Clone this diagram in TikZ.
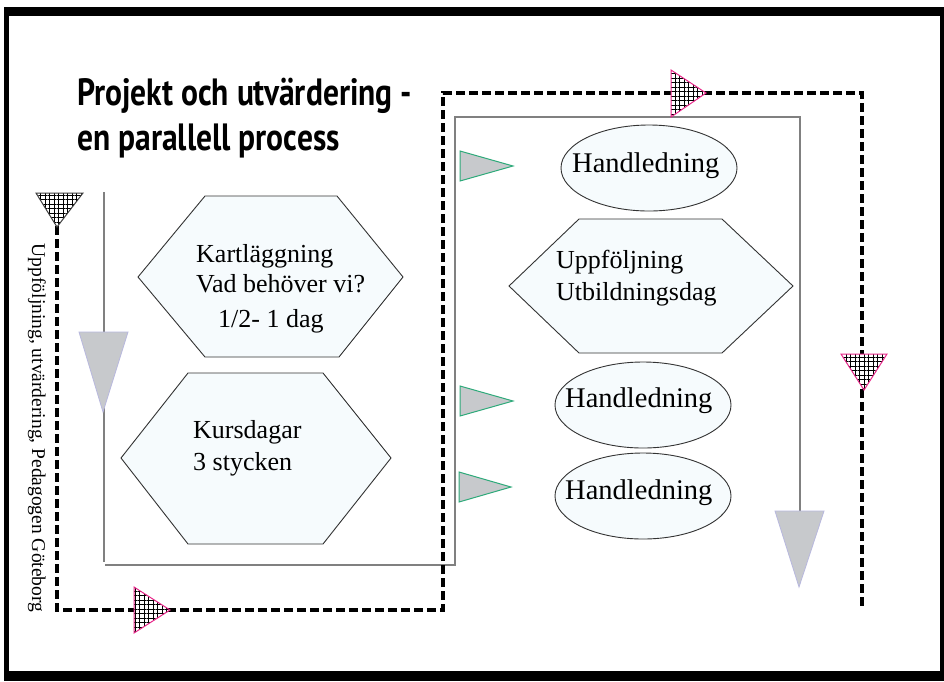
\documentclass[tikz,border=0pt]{standalone}
\usepackage{fontspec}
\setmainfont{Liberation Serif}
\newfontfamily\titlefont{PT Sans}
\usetikzlibrary{patterns.meta,shapes.geometric}
\definecolor{flowgray}{HTML}{808080}
\definecolor{trigray}{HTML}{C7C9CC}
\definecolor{lavender}{HTML}{B8B8DE}
\definecolor{tealgreen}{HTML}{2EAA7A}
\definecolor{hotpink}{HTML}{E8288A}
\definecolor{paleazure}{HTML}{F6FBFD}
\begin{document}
\begin{tikzpicture}[x=1pt,y=-1pt,
  shapebox/.style={draw=black!80,line width=0.9pt,fill=paleazure},
  ellbox/.style={shapebox,ellipse,minimum width=176pt,minimum height=86pt,inner sep=0pt},
  flowline/.style={draw=flowgray,line width=1.6pt},
  dashline/.style={draw=black,line width=3.5pt,dash pattern=on 9pt off 4pt,line join=miter},
  greytri/.style={fill=trigray,draw=lavender,line width=0.8pt},
  greentri/.style={fill=trigray,draw=tealgreen,line width=1pt},
  hatchfill/.style={pattern={Hatch[angle=0,distance=4.5pt,line width=0.45pt]},pattern color=black},
  lbl/.style={font=\fontsize{26}{30}\selectfont,anchor=base west,inner sep=0pt},
  hlbl/.style={font=\fontsize{28.5}{32}\selectfont,anchor=base west,inner sep=0pt},
  ttl/.style={font=\titlefont\bfseries\fontsize{38}{42}\selectfont,anchor=base west,inner sep=0pt,xscale=0.83,transform shape},
]
\useasboundingbox (0,0) rectangle (944,681);
% frame
\fill[black] (4,7) rectangle (944,681);
\fill[white] (9,16) rectangle (940,671);

% title
\node[ttl] (title1) at (77,105) {Projekt och utvärdering -};
\node[ttl] (title2) at (77,150) {en parallell process};

% side text
\node[font=\fontsize{19.5}{22}\selectfont,rotate=-90,inner sep=0pt] (side) at (37,428) {Uppföljning, utvärdering, Pedagogen Göteborg};

% gray flow line
\coordinate (g0) at (104,192);
\coordinate (g1) at (104,562);
\coordinate (g2) at (105,565);
\coordinate (g3) at (455,565);
\coordinate (g4) at (455,117);
\coordinate (g5) at (800,117);
\coordinate (g6) at (800,512);
\draw[flowline] (g0) -- (g1);
\draw[flowline] (g2) -- (g3) -- (g4) -- (g5) -- (g6);

% dashed line
\coordinate (d0) at (57,226);
\coordinate (d1) at (57,610);
\coordinate (d2) at (443,610);
\coordinate (d3) at (443,93);
\coordinate (d4) at (862,93);
\coordinate (d5) at (862,608);
\draw[dashline] (d0) -- (d1) -- (d2) -- (d3) -- (d4) -- (d5);

% hexagons
\draw[shapebox] (205,196) -- (337,196) -- (403,277) -- (339,357) -- (205,357) -- (138,277) -- cycle;
\draw[shapebox] (188,373) -- (323,373) -- (391,458) -- (323,544) -- (188,544) -- (121,458) -- cycle;
\draw[shapebox] (579,219) -- (722,219) -- (793,286) -- (722,353) -- (579,353) -- (509,286) -- cycle;

\node[lbl] (k1) at (196,262) {Kartläggning};
\node[lbl] (k2) at (196,292) {Vad behöver vi?};
\node[lbl] (k3) at (218,327) {1/2- 1 dag};
\node[lbl] (ku1) at (193,438) {Kursdagar};
\node[lbl] (ku2) at (193,470) {3 stycken};
\node[lbl] (u1) at (556,268) {Uppföljning};
\node[lbl] (u2) at (556,300) {Utbildningsdag};

% ellipses
\node[ellbox] (e1) at (649,168) {};
\node[ellbox] (e2) at (643,405) {};
\node[ellbox] (e3) at (643,496) {};
\node[hlbl] (e1t) at (572,172) {Handledning};
\node[hlbl] (e2t) at (565,407) {Handledning};
\node[hlbl] (e3t) at (565,499) {Handledning};

% grey triangles
\draw[greytri] (79,332) -- (128,332) -- (103,412) -- cycle;
\draw[greytri] (775,511) -- (824,511) -- (799,587) -- cycle;
% green-edged triangles
\draw[greentri] (460,151) -- (513,166) -- (460,181) -- cycle;
\draw[greentri] (460,386) -- (513,401) -- (460,416) -- cycle;
\draw[greentri] (459,472) -- (511,487) -- (459,502) -- cycle;

% hatched triangles
\foreach \pts/\col in {{(36,193) -- (83,193) -- (57,227)}/black!75,
                       {(134,587) -- (170,610) -- (134,633)}/hotpink,
                       {(671,70) -- (706,93) -- (671,117)}/hotpink,
                       {(841,354) -- (887,354) -- (864,390)}/hotpink}{
  \fill[white] \pts -- cycle;
  \fill[hatchfill] \pts -- cycle;
  \draw[\col,line width=1pt,line join=miter] \pts -- cycle;
}
\end{tikzpicture}
\end{document}
